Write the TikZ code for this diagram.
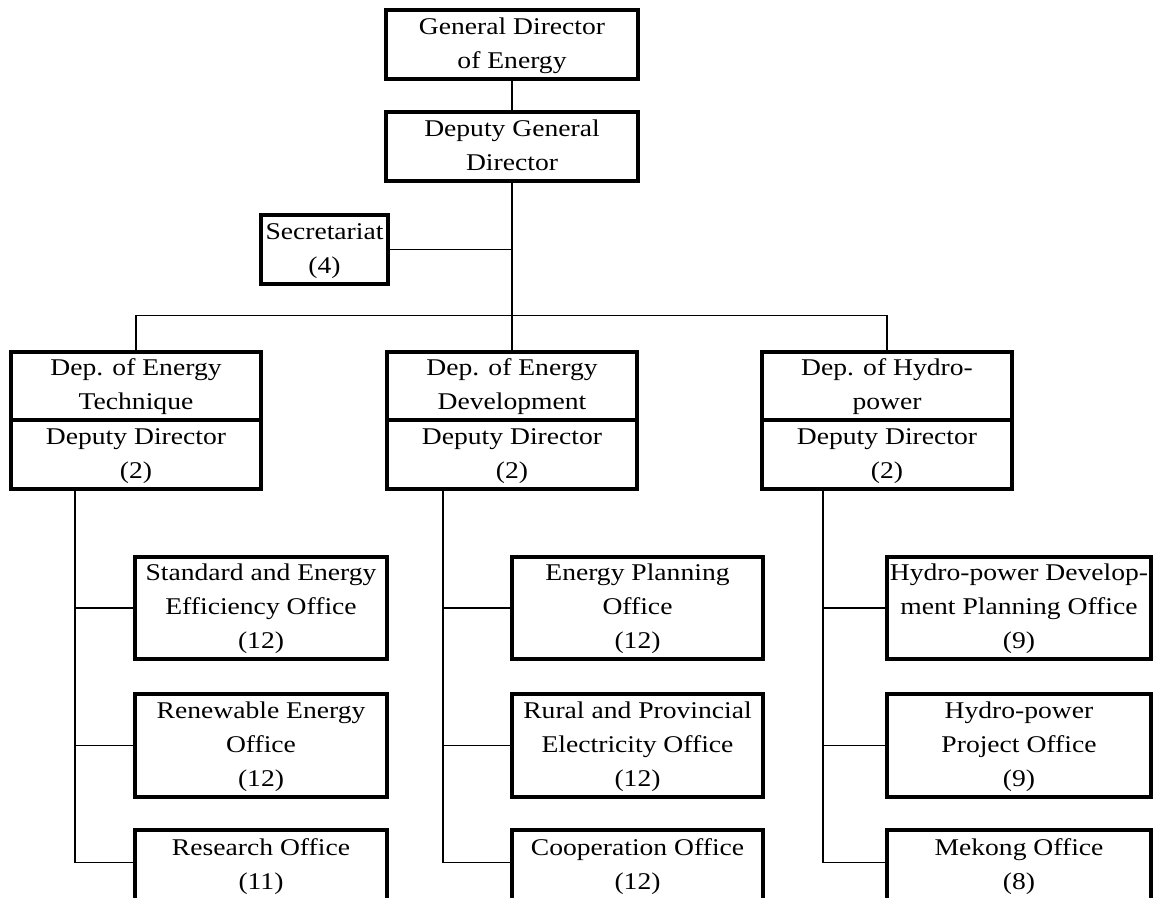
\documentclass[tikz,border=0pt]{standalone}
\usepackage{fontspec}
\setmainfont{Liberation Serif}[FakeStretch=1.15]
\newcommand\boxtext[1]{\begin{tabular}{@{}c@{}}#1\end{tabular}}
\begin{document}
\begin{tikzpicture}[x=0.75pt,y=-0.75pt,
  unit/.style={draw, line width=2.5pt, inner sep=0pt, outer sep=0pt,
    align=center, font=\fontsize{18pt}{25.5pt}\selectfont},
  link/.style={draw, line width=1.3pt}]
\useasboundingbox (0,0) rectangle (1153,897);
\clip (0,0) rectangle (1153,897);

% directorate
\node[unit, minimum width=189pt, minimum height=51.75pt] (gde) at (512,44.5)
  {\boxtext{General Director\\of Energy}};
\node[unit, minimum width=189pt, minimum height=51.75pt] (dgd) at (512,146.5)
  {\boxtext{Deputy General\\Director}};
\node[unit, minimum width=95.25pt, minimum height=51.75pt] (sec) at (324.5,249.5)
  {\boxtext{Secretariat\\(4)}};

% departments: name on top, deputy director below
\node[unit, minimum width=187.5pt, minimum height=51pt] (techT) at (136,386)
  {\boxtext{Dep. of Energy\\Technique}};
\node[unit, minimum width=187.5pt, minimum height=51.75pt] (techD) at (136,454.5)
  {\boxtext{Deputy Director\\(2)}};
\node[unit, minimum width=187.5pt, minimum height=51pt] (devT) at (512,386)
  {\boxtext{Dep. of Energy\\Development}};
\node[unit, minimum width=187.5pt, minimum height=51.75pt] (devD) at (512,454.5)
  {\boxtext{Deputy Director\\(2)}};
\node[unit, minimum width=187.5pt, minimum height=51pt] (hydT) at (887,386)
  {\boxtext{Dep. of Hydro-\\power}};
\node[unit, minimum width=187.5pt, minimum height=51.75pt] (hydD) at (887,454.5)
  {\boxtext{Deputy Director\\(2)}};

% offices of the energy technique department
\node[unit, minimum width=189pt, minimum height=76.5pt] (std) at (261,608)
  {\boxtext{Standard and Energy\\Efficiency Office\\(12)}};
\node[unit, minimum width=189pt, minimum height=77.25pt] (ren) at (261,745.5)
  {\boxtext{Renewable Energy\\Office\\(12)}};
\node[unit, minimum width=189pt, minimum height=54pt] (res) at (261,866)
  {\boxtext{Research Office\\(11)}};

% offices of the energy development department
\node[unit, minimum width=188.25pt, minimum height=76.5pt] (epl) at (637.5,608)
  {\boxtext{Energy Planning\\Office\\(12)}};
\node[unit, minimum width=188.25pt, minimum height=77.25pt] (rur) at (637.5,745.5)
  {\boxtext{Rural and Provincial\\Electricity Office\\(12)}};
\node[unit, minimum width=188.25pt, minimum height=54pt] (coop) at (637.5,866)
  {\boxtext{Cooperation Office\\(12)}};

% offices of the hydro-power department
\node[unit, minimum width=198pt, minimum height=76.5pt] (hdp) at (1019,608)
  {\boxtext{Hydro-power Develop-\\ment Planning Office\\(9)}};
\node[unit, minimum width=198pt, minimum height=77.25pt] (hpp) at (1019,745.5)
  {\boxtext{Hydro-power\\Project Office\\(9)}};
\node[unit, minimum width=198pt, minimum height=54pt] (mek) at (1019,866)
  {\boxtext{Mekong Office\\(8)}};

% connectors
\coordinate (bus) at (512,315.5);
\path[link] (gde.south) -- (dgd.north);
\path[link] (dgd.south) -- (devT.north);
\path[link] (sec.east) -- (sec.east -| dgd.south);
\path[link] (techT.north) |- (bus) -| (hydT.north);

\coordinate (colL) at (75,454.5 |- techD.south);
\coordinate (colM) at (443,454.5 |- devD.south);
\coordinate (colR) at (823,454.5 |- hydD.south);
\path[link] (colL) |- ([yshift=2.6pt]res.west);
\path[link] (colL |- std.west) -- (std.west);
\path[link] (colL |- ren.west) -- (ren.west);
\path[link] (colM) |- ([yshift=2.6pt]coop.west);
\path[link] (colM |- epl.west) -- (epl.west);
\path[link] (colM |- rur.west) -- (rur.west);
\path[link] (colR) |- ([yshift=2.6pt]mek.west);
\path[link] (colR |- hdp.west) -- (hdp.west);
\path[link] (colR |- hpp.west) -- (hpp.west);
\end{tikzpicture}
\end{document}
